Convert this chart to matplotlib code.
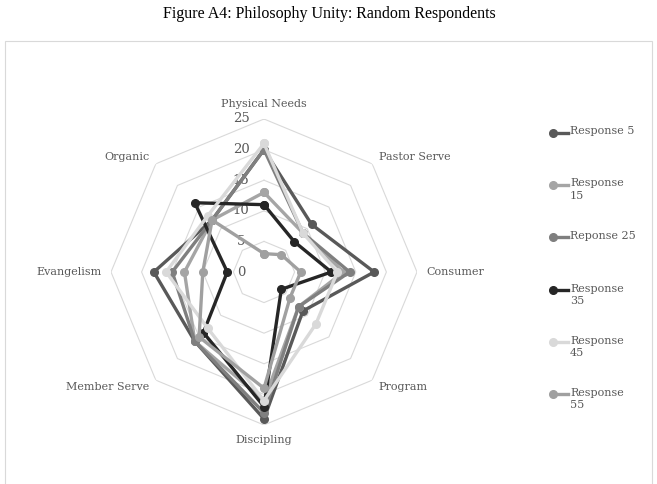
import numpy as np
import matplotlib.pyplot as plt
from matplotlib.lines import Line2D
from matplotlib.patches import Rectangle
from matplotlib.transforms import ScaledTranslation

categories = ['Physical Needs', 'Pastor Serve', 'Consumer', 'Program',
              'Discipling', 'Member Serve', 'Evangelism', 'Organic']
series_names = ['Response 5', 'Response\n15', 'Reponse 25',
                'Response\n35', 'Response\n45', 'Response\n55']
values = [
    [20, 11, 18, 9, 24, 16, 18, 12],   # Response 5
    [13, 9, 13, 8, 21, 16, 13, 12],    # Response 15
    [20, 9, 14, 8, 23, 16, 15, 12],    # Reponse 25
    [11, 7, 11, 4, 22, 14, 6, 16],     # Response 35
    [21, 9, 12, 12, 21, 13, 16, 13],   # Response 45
    [3, 4, 6, 6, 19, 15, 10, 12],      # Response 55
]
colors = ['#595959', '#a5a5a5', '#7f7f7f', '#262626', '#d9d9d9', '#a0a0a0']
ticks = [0, 5, 10, 15, 20, 25]

W, H = 657, 484
fig = plt.figure(figsize=(W / 100, H / 100), dpi=100)
text_col = '#595959'
label_font = 'DejaVu Serif'

fig.text(329 / W, 1 - 14 / H, 'Figure A4: Philosophy Unity: Random Respondents',
         ha='center', va='center', fontsize=11.5, family='Liberation Serif')
fig.add_artist(Rectangle((5 / W, -0.01), 647 / W, 1 - 41 / H + 0.01,
                         transform=fig.transFigure, fill=False,
                         edgecolor='#d9d9d9', linewidth=0.8))

cx, cy, rad = 264, 272, 153
ax = fig.add_axes([(cx - rad) / W, 1 - (cy + rad) / H, 2 * rad / W, 2 * rad / H],
                  polar=True)
ax.set_theta_zero_location('N')
ax.set_theta_direction(-1)
ax.set_ylim(0, 25)
ax.axis('off')

n = len(categories)
theta = np.arange(n) * 2 * np.pi / n
theta_c = np.append(theta, theta[0])

# tick labels sit a bit left of the vertical axis
shift = ax.transData + ScaledTranslation(-23 / 100, 0, fig.dpi_scale_trans)
for t in ticks:
    if t > 0:
        ax.plot(theta_c, [t] * (n + 1), color='#d9d9d9', lw=0.8, zorder=1)
    ax.text(0, t, str(t), ha='center', va='center', fontsize=9.5,
            color=text_col, family=label_font, transform=shift)

for vals, c in zip(values, colors):
    v = vals + vals[:1]
    ax.plot(theta_c, v, color=c, lw=2.4, marker='o', markersize=5.5, zorder=3)

aligns = ['center', 'left', 'left', 'left', 'center', 'right', 'right', 'right']
for ang, lab, ha in zip(theta, categories, aligns):
    r = 27.5 if ha == 'center' else 26.5
    ax.text(ang, r, lab, ha=ha, va='center', fontsize=8, color=text_col,
            family=label_font)

leg_y = [133, 185, 237, 290, 342, 394]
for name, c, y in zip(series_names, colors, leg_y):
    fig.add_artist(Line2D([552 / W, 568 / W], [1 - y / H, 1 - y / H],
                          transform=fig.transFigure, color=c, lw=2.4))
    fig.add_artist(Line2D([553 / W], [1 - y / H], transform=fig.transFigure,
                          color=c, marker='o', markersize=5.5))
    fig.text(570 / W, 1 - (y - 6.5) / H, name, ha='left', va='top', fontsize=8,
             color=text_col, family=label_font, linespacing=1.3)

fig.savefig('out.png', dpi=100)
